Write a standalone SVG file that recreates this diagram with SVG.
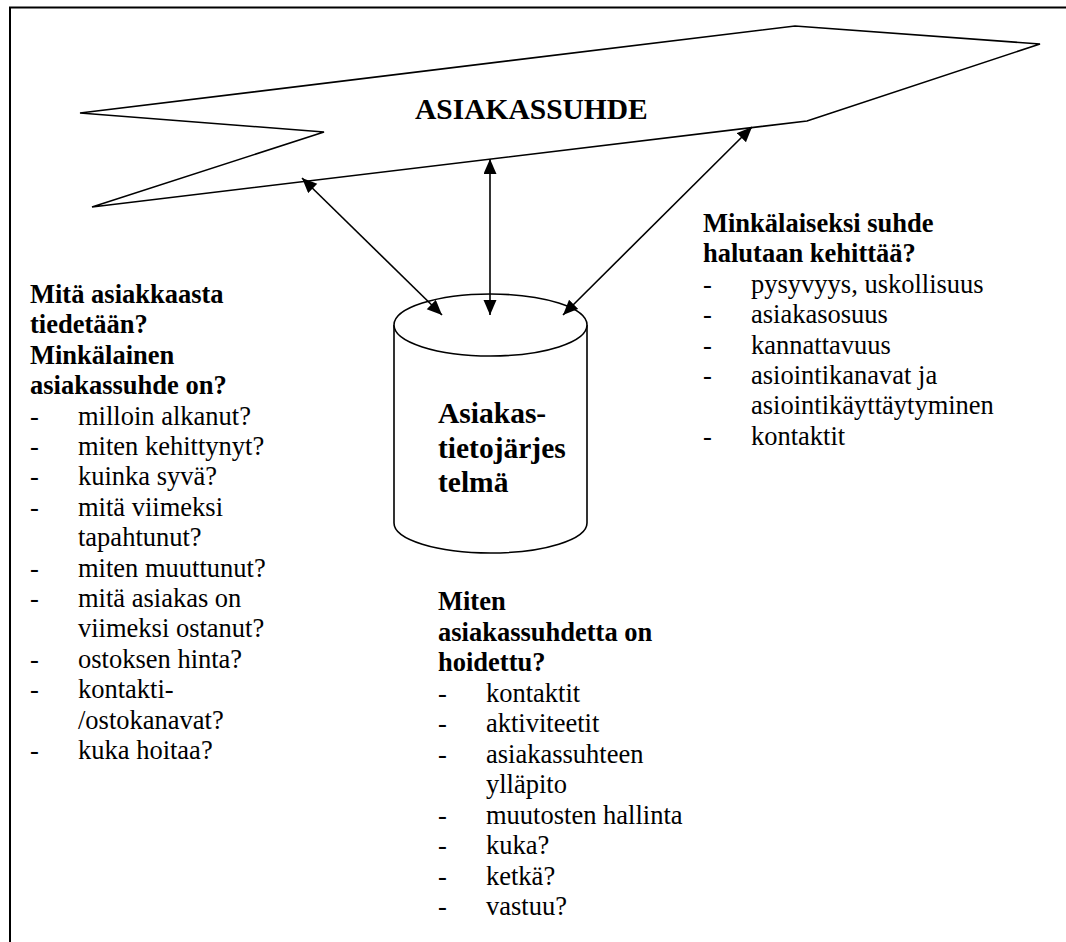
<svg xmlns="http://www.w3.org/2000/svg" width="1066" height="942" viewBox="0 0 1066 942" font-family="Liberation Serif, DejaVu Serif, Times New Roman, serif">
<style>
  .shape { fill: #ffffff; stroke: #000000; stroke-width: 1.6; stroke-linejoin: miter; }
  .conn { stroke: #000000; stroke-width: 1.6; fill: none; marker-start: url(#ah); marker-end: url(#ah); }
  text { font-family: 'Liberation Serif', 'DejaVu Serif', 'Times New Roman', serif; fill: #000000; }
  .b { font-weight: bold; font-size: 26.5px; }
  .r { font-size: 26.5px; }
  .big { font-weight: bold; font-size: 29.5px; }
</style>
<defs>
  <marker id="ah" markerUnits="userSpaceOnUse" markerWidth="16" markerHeight="14" refX="15" refY="6.5" orient="auto-start-reverse">
    <path d="M0,0 L15,6.5 L0,13 z" fill="#000000"/>
  </marker>
</defs>
<rect x="0" y="0" width="1066" height="942" fill="#ffffff"/>
<rect x="10" y="7.5" width="1200" height="1100" fill="none" stroke="#000000" stroke-width="2"/>

<g id="asiakassuhde">
  <polygon class="shape" points="80,113 795,26 1040,44 807,121 92,207 324,132"/>
  <text class="big" x="415" y="119" font-family="Liberation Serif, serif">ASIAKASSUHDE</text>
</g>

<g id="asiakastietojarjestelma">
  <path class="shape" d="M394,325 L394,523 A96.5,30 0 0 0 587,523 L587,325"/>
  <ellipse class="shape" cx="490.5" cy="325" rx="96.5" ry="31"/>
  <text class="big" x="438" y="423">Asiakas-</text>
  <text class="big" x="438" y="457.5">tietojärjes</text>
  <text class="big" x="438" y="492">telmä</text>
</g>

<g id="connectors">
  <line class="conn" x1="442" y1="315" x2="302" y2="178"/>
  <line class="conn" x1="490" y1="315" x2="490" y2="159"/>
  <line class="conn" x1="563" y1="315" x2="752" y2="127"/>
</g>

<g id="left-text">
  <text class="b" x="30" y="303">Mitä asiakkaasta</text>
  <text class="b" x="30" y="333.4">tiedetään?</text>
  <text class="b" x="30" y="363.8">Minkälainen</text>
  <text class="b" x="30" y="394.2">asiakassuhde on?</text>
  <text class="r" x="30" y="424.6">-</text><text class="r" x="78" y="424.6">milloin alkanut?</text>
  <text class="r" x="30" y="455">-</text><text class="r" x="78" y="455">miten kehittynyt?</text>
  <text class="r" x="30" y="485.4">-</text><text class="r" x="78" y="485.4">kuinka syvä?</text>
  <text class="r" x="30" y="515.8">-</text><text class="r" x="78" y="515.8">mitä viimeksi</text>
  <text class="r" x="78" y="546.2">tapahtunut?</text>
  <text class="r" x="30" y="576.6">-</text><text class="r" x="78" y="576.6">miten muuttunut?</text>
  <text class="r" x="30" y="607">-</text><text class="r" x="78" y="607">mitä asiakas on</text>
  <text class="r" x="78" y="637.4">viimeksi ostanut?</text>
  <text class="r" x="30" y="667.8">-</text><text class="r" x="78" y="667.8">ostoksen hinta?</text>
  <text class="r" x="30" y="698.2">-</text><text class="r" x="78" y="698.2">kontakti-</text>
  <text class="r" x="78" y="728.6">/ostokanavat?</text>
  <text class="r" x="30" y="759">-</text><text class="r" x="78" y="759">kuka hoitaa?</text>
</g>

<g id="right-text">
  <text class="b" x="703" y="232">Minkälaiseksi suhde</text>
  <text class="b" x="703" y="262.4">halutaan kehittää?</text>
  <text class="r" x="703" y="292.8">-</text><text class="r" x="751" y="292.8">pysyvyys, uskollisuus</text>
  <text class="r" x="703" y="323.2">-</text><text class="r" x="751" y="323.2">asiakasosuus</text>
  <text class="r" x="703" y="353.6">-</text><text class="r" x="751" y="353.6">kannattavuus</text>
  <text class="r" x="703" y="384">-</text><text class="r" x="751" y="384">asiointikanavat ja</text>
  <text class="r" x="751" y="414.4">asiointikäyttäytyminen</text>
  <text class="r" x="703" y="444.8">-</text><text class="r" x="751" y="444.8">kontaktit</text>
</g>

<g id="center-text">
  <text class="b" x="438" y="610">Miten</text>
  <text class="b" x="438" y="640.5">asiakassuhdetta on</text>
  <text class="b" x="438" y="671">hoidettu?</text>
  <text class="r" x="438" y="701.5">-</text><text class="r" x="486" y="701.5">kontaktit</text>
  <text class="r" x="438" y="732">-</text><text class="r" x="486" y="732">aktiviteetit</text>
  <text class="r" x="438" y="762.5">-</text><text class="r" x="486" y="762.5">asiakassuhteen</text>
  <text class="r" x="486" y="793">ylläpito</text>
  <text class="r" x="438" y="823.5">-</text><text class="r" x="486" y="823.5">muutosten hallinta</text>
  <text class="r" x="438" y="854">-</text><text class="r" x="486" y="854">kuka?</text>
  <text class="r" x="438" y="884.5">-</text><text class="r" x="486" y="884.5">ketkä?</text>
  <text class="r" x="438" y="915">-</text><text class="r" x="486" y="915">vastuu?</text>
</g>
</svg>
